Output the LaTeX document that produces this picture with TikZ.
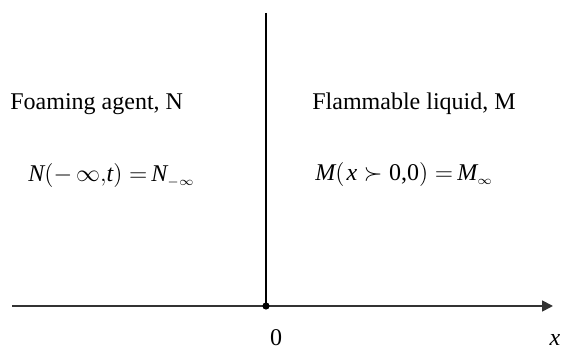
\documentclass[tikz,border=0pt]{standalone}
\usepackage{fontspec}
\setmainfont{Liberation Serif}
\usetikzlibrary{arrows.meta}

\begin{document}
\begin{tikzpicture}[x=0.5pt,y=-0.5pt,font=\fontsize{12}{14}\selectfont,
    axis/.style={line width=0.85pt,draw=black!80,-{Triangle[length=5.5pt,width=5.5pt]}},
    wall/.style={line width=0.75pt},
    lbl/.style={anchor=base west,inner sep=0pt}]
            \useasboundingbox (0,0) rectangle (563,351);

            % axis and interface
            \coordinate (xstart) at (12,306);
            \coordinate (xend) at (553,306);
            \coordinate (origin) at (266,306);
            \coordinate (wtop) at (266,13);
            \draw[axis] (xstart) -- (xend);
            \draw[wall] (wtop) -- (origin);
            \fill (origin) circle (1.8pt);

            \node[anchor=base,inner sep=0pt] (zero) at (276,346) {0};
            \node[anchor=base,inner sep=0pt] (xlabel) at (555,346) {\itshape x};

            % the two regions
            \node[lbl] (agent) at (10,110) {Foaming agent, N};
            \node[lbl] (liquid) at (312,110) {Flammable liquid, M};

            \node[lbl] (ncond) at (28,182)
                {{\itshape N}$\bigl(-\,\infty,${\itshape t}$\bigr)=${\,\itshape N}$_{\scriptscriptstyle-\infty}$};
            \node[lbl] (mcond) at (315,181)
                {{\itshape M}$\bigl($\kern1pt{\itshape x}$\;\succ\;$0,0$\bigr)=${\,\itshape M}$_{\scriptscriptstyle\infty}$};
        \end{tikzpicture}
\end{document}
